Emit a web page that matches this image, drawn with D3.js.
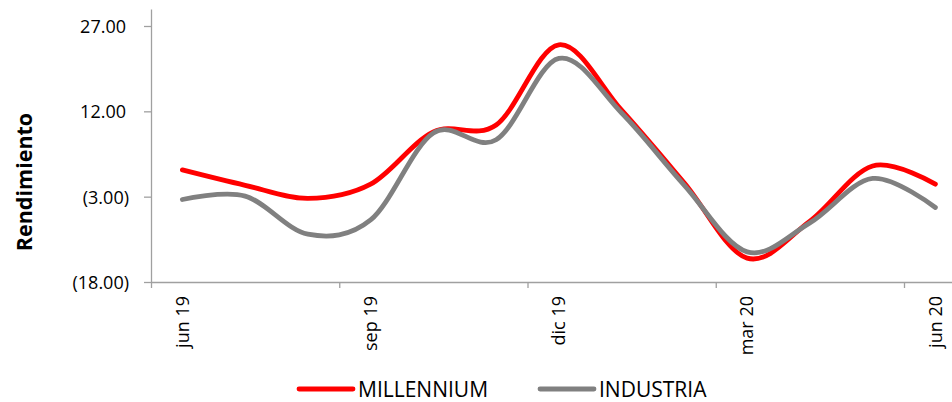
<!DOCTYPE html>
<html>
<head>
<meta charset="utf-8">
<script src="https://cdn.jsdelivr.net/npm/d3@7"></script>
<style>
  html, body { margin: 0; padding: 0; background: #fff; }
  svg { display: block; }
</style>
</head>
<body>
<div id="chart"></div>
<script>
// Monthly returns, jun 19 – jun 20
const months = ["jun 19", "jul 19", "ago 19", "sep 19", "oct 19", "nov 19", "dic 19",
                "ene 20", "feb 20", "mar 20", "abr 20", "may 20", "jun 20"];
const millennium = [1.7, -1.0, -3.3, -0.8, 8.4, 9.6, 23.7, 12.2, -0.6, -13.8, -7.3, 2.4, -0.8];
const industria  = [-3.5, -2.9, -9.6, -7.1, 8.2, 7.0, 21.3, 11.7, -1.0, -12.7, -7.6, 0.2, -4.9];
const yTicks = [-18, -3, 12, 27];
const labelMonths = [0, 3, 6, 9, 12];
const seriesNames = ["MILLENNIUM", "INDUSTRIA"];
const seriesColors = ["#ff0000", "#808080"];

const W = 952, H = 402;
const font = "'Open Sans', sans-serif";
const axisColor = "#a0a0a0";

const svg = d3.select("#chart").append("svg")
  .attr("width", W).attr("height", H);

// Category axis: each month occupies one band, points sit at band centres
const x = d3.scaleLinear().domain([-0.5, 12.5]).range([151, 151 + 13 * 62.75]);
const y = d3.scaleLinear().domain([-18, 30]).range([282, 282 - 48 * 5.689]);

// Y axis
const fmt = v => v < 0 ? "(" + Math.abs(v).toFixed(2) + ")" : v.toFixed(2) + "\u2009";
const yAxis = svg.append("g")
  .attr("transform", "translate(151,0)")
  .call(d3.axisLeft(y).tickValues(yTicks).tickSize(7).tickSizeOuter(0).tickPadding(15).tickFormat(fmt));
yAxis.select(".domain").attr("stroke", axisColor).attr("stroke-width", 1.3);
yAxis.selectAll(".tick line").attr("stroke", axisColor).attr("stroke-width", 1.3);
yAxis.selectAll(".tick text")
  .attr("fill", "#000").style("font-family", font).style("font-size", "18px")
  .attr("dy", "0.36em");

// X axis line with tick marks between quarter boundaries
const xAxis = svg.append("g")
  .attr("transform", "translate(0,282)")
  .call(d3.axisBottom(x).tickValues([-0.5, 2.5, 5.5, 8.5, 11.5]).tickSize(6).tickSizeOuter(0).tickFormat(""));
xAxis.select(".domain").attr("stroke", axisColor).attr("stroke-width", 1.3);
xAxis.selectAll(".tick line").attr("stroke", axisColor).attr("stroke-width", 1.3);

// Month labels, rotated
const xLabels = svg.append("g")
  .attr("transform", "translate(0,282)")
  .call(d3.axisBottom(x).tickValues(labelMonths).tickSize(0).tickFormat(i => months[i]));
xLabels.select(".domain").remove();
xLabels.selectAll(".tick text")
  .attr("fill", "#000").style("font-family", font).style("font-size", "18px")
  .attr("text-anchor", "end")
  .attr("transform", "rotate(-90)")
  .attr("x", -14).attr("y", 0).attr("dx", 0).attr("dy", "0.32em");

// Y axis title
svg.append("text")
  .attr("transform", "translate(32,182) rotate(-90)")
  .attr("text-anchor", "middle")
  .style("font-family", font).style("font-size", "21.5px").style("font-weight", "bold")
  .text("Rendimiento");

// Smoothed lines
const line = d3.line()
  .x((d, i) => x(i))
  .y(d => y(d))
  .curve(d3.curveCatmullRom.alpha(0));

[millennium, industria].forEach((s, k) => {
  svg.append("path")
    .datum(s)
    .attr("fill", "none")
    .attr("stroke", seriesColors[k])
    .attr("stroke-width", 4.8)
    .attr("stroke-linecap", "round")
    .attr("stroke-linejoin", "round")
    .attr("d", line);
});

// Legend
const legend = svg.append("g");
const legendX = [299, 540];
seriesNames.forEach((name, k) => {
  const g = legend.append("g").attr("transform", `translate(${legendX[k]},389)`);
  g.append("line")
    .attr("x1", 0).attr("x2", 54).attr("y1", 0).attr("y2", 0)
    .attr("stroke", seriesColors[k]).attr("stroke-width", 4.8).attr("stroke-linecap", "round");
  g.append("text")
    .attr("x", 59).attr("y", 7.5)
    .style("font-family", font).style("font-size", "21px")
    .attr("fill", "#000")
    .text(name);
});
</script>
</body>
</html>
